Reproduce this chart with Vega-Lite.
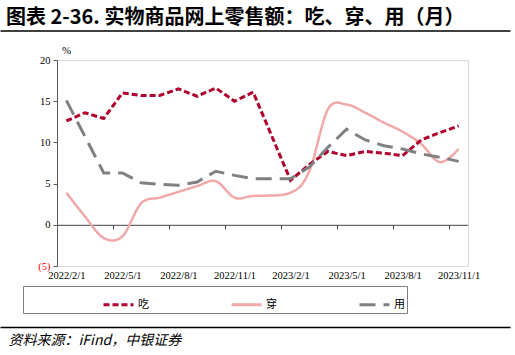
{
  "$schema": "https://vega.github.io/schema/vega-lite/v6.json",
  "autosize": {"type": "none"},
  "width": 510,
  "height": 206,
  "padding": {"left": 0, "top": 60, "right": 5, "bottom": 89},
  "title": {"text": "图表 2-36. 实物商品网上零售额：吃、穿、用（月）", "anchor": "start", "frame": "group", "font": "Noto Sans CJK SC", "fontSize": 20, "fontWeight": "bold", "color": "#000000", "dx": 6, "offset": -17, "baseline": "bottom"},
  "view": {"stroke": null},
  "data": {"values": [
    {"month": "2022/2/1", "series": "吃", "value": 12.6},
    {"month": "2022/3/1", "series": "吃", "value": 13.6},
    {"month": "2022/4/1", "series": "吃", "value": 12.9},
    {"month": "2022/5/1", "series": "吃", "value": 16.0},
    {"month": "2022/6/1", "series": "吃", "value": 15.7},
    {"month": "2022/7/1", "series": "吃", "value": 15.7},
    {"month": "2022/8/1", "series": "吃", "value": 16.5},
    {"month": "2022/9/1", "series": "吃", "value": 15.6},
    {"month": "2022/10/1", "series": "吃", "value": 16.6},
    {"month": "2022/11/1", "series": "吃", "value": 15.0},
    {"month": "2022/12/1", "series": "吃", "value": 16.1},
    {"month": "2023/2/1", "series": "吃", "value": 5.4},
    {"month": "2023/3/1", "series": "吃", "value": 7.3},
    {"month": "2023/4/1", "series": "吃", "value": 8.9},
    {"month": "2023/5/1", "series": "吃", "value": 8.4},
    {"month": "2023/6/1", "series": "吃", "value": 8.9},
    {"month": "2023/7/1", "series": "吃", "value": 8.7},
    {"month": "2023/8/1", "series": "吃", "value": 8.4},
    {"month": "2023/9/1", "series": "吃", "value": 10.3},
    {"month": "2023/10/1", "series": "吃", "value": 11.2},
    {"month": "2023/11/1", "series": "吃", "value": 12.0},
    {"month": "2022/2/1", "series": "穿", "value": 3.9},
    {"month": "2022/3/1", "series": "穿", "value": 1.0},
    {"month": "2022/4/1", "series": "穿", "value": -1.6},
    {"month": "2022/5/1", "series": "穿", "value": -1.4},
    {"month": "2022/6/1", "series": "穿", "value": 2.6},
    {"month": "2022/7/1", "series": "穿", "value": 3.3},
    {"month": "2022/8/1", "series": "穿", "value": 4.0},
    {"month": "2022/9/1", "series": "穿", "value": 4.7},
    {"month": "2022/10/1", "series": "穿", "value": 5.3},
    {"month": "2022/11/1", "series": "穿", "value": 3.3},
    {"month": "2022/12/1", "series": "穿", "value": 3.5},
    {"month": "2023/2/1", "series": "穿", "value": 3.9},
    {"month": "2023/3/1", "series": "穿", "value": 6.5},
    {"month": "2023/4/1", "series": "穿", "value": 14.0},
    {"month": "2023/5/1", "series": "穿", "value": 14.6},
    {"month": "2023/6/1", "series": "穿", "value": 13.6},
    {"month": "2023/7/1", "series": "穿", "value": 12.4},
    {"month": "2023/8/1", "series": "穿", "value": 11.3},
    {"month": "2023/9/1", "series": "穿", "value": 9.8},
    {"month": "2023/10/1", "series": "穿", "value": 7.6},
    {"month": "2023/11/1", "series": "穿", "value": 9.2},
    {"month": "2022/2/1", "series": "用", "value": 15.1},
    {"month": "2022/3/1", "series": "用", "value": 10.7},
    {"month": "2022/4/1", "series": "用", "value": 6.3},
    {"month": "2022/5/1", "series": "用", "value": 6.3},
    {"month": "2022/6/1", "series": "用", "value": 5.1},
    {"month": "2022/7/1", "series": "用", "value": 4.9},
    {"month": "2022/8/1", "series": "用", "value": 4.8},
    {"month": "2022/9/1", "series": "用", "value": 5.2},
    {"month": "2022/10/1", "series": "用", "value": 6.5},
    {"month": "2022/11/1", "series": "用", "value": 6.0},
    {"month": "2022/12/1", "series": "用", "value": 5.6},
    {"month": "2023/2/1", "series": "用", "value": 5.6},
    {"month": "2023/3/1", "series": "用", "value": 7.0},
    {"month": "2023/4/1", "series": "用", "value": 9.4},
    {"month": "2023/5/1", "series": "用", "value": 11.6},
    {"month": "2023/6/1", "series": "用", "value": 10.3},
    {"month": "2023/7/1", "series": "用", "value": 9.6},
    {"month": "2023/8/1", "series": "用", "value": 9.2},
    {"month": "2023/9/1", "series": "用", "value": 8.6},
    {"month": "2023/10/1", "series": "用", "value": 8.2},
    {"month": "2023/11/1", "series": "用", "value": 7.7}
  ]},
  "layer": [
    {
      "transform": [{"filter": "datum.series === '穿'"}],
      "mark": {"type": "line", "interpolate": "cardinal", "strokeWidth": 2.5},
      "encoding": {
        "x": {
          "field": "month", "type": "ordinal", "sort": null,
          "scale": {"type": "point", "padding": 0.5, "range": [57, 468], "domain": ["2022/2/1","2022/3/1","2022/4/1","2022/5/1","2022/6/1","2022/7/1","2022/8/1","2022/9/1","2022/10/1","2022/11/1","2022/12/1","2023/1/1","2023/2/1","2023/3/1","2023/4/1","2023/5/1","2023/6/1","2023/7/1","2023/8/1","2023/9/1","2023/10/1","2023/11/1"]},
          "axis": {
            "orient": "bottom", "values": ["2022/2/1","2022/5/1","2022/8/1","2022/11/1","2023/2/1","2023/5/1","2023/8/1","2023/11/1"],
            "domain": true, "domainColor": "#D9D9D9", "ticks": false, "tickSize": 0, "labelPadding": 4, "labelAngle": 0, "title": null, "grid": false,
            "labelFont": "Liberation Serif", "labelFontSize": 10.5, "labelColor": "#000000"
          }
        },
        "y": {
          "field": "value", "type": "quantitative",
          "scale": {"domain": [-5, 20], "nice": false, "zero": false},
          "axis": {
            "orient": "left", "offset": -57,
            "values": [-5, 0, 5, 10, 15, 20],
            "title": "%", "titleAngle": 0, "titleX": 9, "titleY": -7, "titleAlign": "center", "titleBaseline": "alphabetic",
            "titleFont": "Liberation Serif", "titleFontSize": 11, "titleFontWeight": "normal", "titleColor": "#000000",
            "labelExpr": "datum.value < 0 ? '(' + abs(datum.value) + ')' : datum.label",
            "labelColor": {"condition": {"test": "datum.value < 0", "value": "#FF0000"}, "value": "#000000"},
            "labelFont": "Liberation Serif", "labelFontSize": 10.5,
            "tickSize": 4, "labelPadding": 3, "grid": false,
            "domainColor": "#595959", "tickColor": "#595959"
          }
        },
        "color": {
          "field": "series", "type": "nominal",
          "scale": {"domain": ["吃", "穿", "用"], "range": ["#B0002B", "#F0A8A8", "#808080"]},
          "legend": {
            "title": "\u3000", "titleOrient": "left", "titlePadding": 77, "titleFont": "Noto Sans CJK SC", "titleFontSize": 11,
            "orient": "none", "legendX": 23, "legendY": 226, "direction": "horizontal",
            "columnPadding": 76, "labelOffset": 3, "symbolSize": 900, "symbolStrokeWidth": 3, "symbolType": "stroke",
            "strokeColor": "#808080", "padding": 2,
            "labelFont": "Noto Sans CJK SC", "labelFontSize": 11, "labelColor": "#000000",
            "labelExpr": "datum.label == '用' ? '用\u3000\u3000\u3000\u3000\u3000\u3000\u3000\u3000\u3000\u3000\u3000\u3000\u3000\u3000\u3000\u3000\u3000\u3000\u3000\u3000\u3000\u3000\u3000' : datum.label"
          }
        },
        "strokeDash": {
          "field": "series", "type": "nominal",
          "scale": {"domain": ["吃", "穿", "用"], "range": [[6, 3], [1, 0], [16, 8]]},
          "legend": {
            "title": "\u3000", "titleOrient": "left", "titlePadding": 77, "titleFont": "Noto Sans CJK SC", "titleFontSize": 11,
            "orient": "none", "legendX": 23, "legendY": 226, "direction": "horizontal",
            "columnPadding": 76, "labelOffset": 3, "symbolSize": 900, "symbolStrokeWidth": 3, "symbolType": "stroke",
            "strokeColor": "#808080", "padding": 2,
            "labelFont": "Noto Sans CJK SC", "labelFontSize": 11, "labelColor": "#000000",
            "labelExpr": "datum.label == '用' ? '用\u3000\u3000\u3000\u3000\u3000\u3000\u3000\u3000\u3000\u3000\u3000\u3000\u3000\u3000\u3000\u3000\u3000\u3000\u3000\u3000\u3000\u3000\u3000' : datum.label"
          }
        }
      }
    },
    {
      "transform": [{"filter": "datum.series !== '穿'"}],
      "mark": {"type": "line", "strokeWidth": 3},
      "encoding": {
        "x": {
          "field": "month", "type": "ordinal", "sort": null,
          "scale": {"type": "point", "padding": 0.5, "range": [57, 468], "domain": ["2022/2/1","2022/3/1","2022/4/1","2022/5/1","2022/6/1","2022/7/1","2022/8/1","2022/9/1","2022/10/1","2022/11/1","2022/12/1","2023/1/1","2023/2/1","2023/3/1","2023/4/1","2023/5/1","2023/6/1","2023/7/1","2023/8/1","2023/9/1","2023/10/1","2023/11/1"]},
          "axis": {
            "orient": "bottom", "offset": -41.2, "values": ["2022/2/1","2022/5/1","2022/8/1","2022/11/1","2023/2/1","2023/5/1","2023/8/1","2023/11/1"],
            "domain": true, "domainColor": "#404040", "ticks": true, "tickOffset": -9.34, "tickSize": 4, "tickColor": "#404040",
            "labels": false, "title": null, "grid": false
          }
        },
        "y": {"field": "value", "type": "quantitative", "scale": {"domain": [-5, 20], "nice": false, "zero": false}, "axis": null},
        "color": {"field": "series", "type": "nominal", "scale": {"domain": ["吃", "穿", "用"], "range": ["#B0002B", "#F0A8A8", "#808080"]}},
        "strokeDash": {"field": "series", "type": "nominal", "scale": {"domain": ["吃", "穿", "用"], "range": [[6, 3], [1, 0], [16, 8]]}}
      }
    },
    {
      "mark": {"type": "point", "opacity": 0},
      "encoding": {
        "x": {
          "field": "month", "type": "ordinal", "sort": null,
          "scale": {"type": "point", "padding": 0.5, "domain": ["2022/2/1","2022/3/1","2022/4/1","2022/5/1","2022/6/1","2022/7/1","2022/8/1","2022/9/1","2022/10/1","2022/11/1","2022/12/1","2023/1/1","2023/2/1","2023/3/1","2023/4/1","2023/5/1","2023/6/1","2023/7/1","2023/8/1","2023/9/1","2023/10/1","2023/11/1"]},
          "axis": {"orient": "top", "offset": 29.5, "domain": true, "domainColor": "#000000", "domainWidth": 1.5, "ticks": false, "labels": false, "title": null, "grid": false}
        },
        "y": {
          "field": "value", "type": "quantitative", "scale": {"domain": [-5, 20], "nice": false, "zero": false},
          "axis": {"orient": "right", "offset": -42, "domain": true, "domainColor": "#D9D9D9", "ticks": false, "labels": false, "title": null, "grid": false}
        }
      }
    },
    {
      "mark": {"type": "point", "opacity": 0},
      "encoding": {
        "x": {
          "field": "month", "type": "ordinal", "sort": null,
          "scale": {"type": "point", "padding": 0.5, "domain": ["2022/2/1","2022/3/1","2022/4/1","2022/5/1","2022/6/1","2022/7/1","2022/8/1","2022/9/1","2022/10/1","2022/11/1","2022/12/1","2023/1/1","2023/2/1","2023/3/1","2023/4/1","2023/5/1","2023/6/1","2023/7/1","2023/8/1","2023/9/1","2023/10/1","2023/11/1"]},
          "axis": {
            "orient": "bottom", "offset": 61, "domain": true, "domainColor": "#000000", "domainWidth": 1.5, "ticks": false, "labels": false, "grid": false,
            "title": "资料来源：iFind，中银证券", "titleX": 8, "titleY": 6, "titleAlign": "left", "titleBaseline": "top", "titleAnchor": null,
            "titleFont": "Noto Sans CJK SC", "titleFontSize": 14, "titleFontStyle": "italic", "titleFontWeight": "normal", "titleColor": "#000000"
          }
        },
        "y": {"field": "value", "type": "quantitative", "scale": {"domain": [-5, 20], "nice": false, "zero": false}, "axis": null}
      }
    },
    {
      "mark": {"type": "point", "opacity": 0},
      "encoding": {
        "x": {
          "field": "month", "type": "ordinal", "sort": null,
          "scale": {"type": "point", "padding": 0.5, "range": [57, 468], "domain": ["2022/2/1","2022/3/1","2022/4/1","2022/5/1","2022/6/1","2022/7/1","2022/8/1","2022/9/1","2022/10/1","2022/11/1","2022/12/1","2023/1/1","2023/2/1","2023/3/1","2023/4/1","2023/5/1","2023/6/1","2023/7/1","2023/8/1","2023/9/1","2023/10/1","2023/11/1"]},
          "axis": {"orient": "top", "offset": 0, "domain": true, "domainColor": "#D9D9D9", "ticks": false, "labels": false, "title": null, "grid": false}
        },
        "y": {"field": "value", "type": "quantitative", "scale": {"domain": [-5, 20], "nice": false, "zero": false}, "axis": null}
      }
    }
  ],
  "resolve": {"scale": {"x": "independent"}, "axis": {"x": "independent", "y": "independent"}}
}
